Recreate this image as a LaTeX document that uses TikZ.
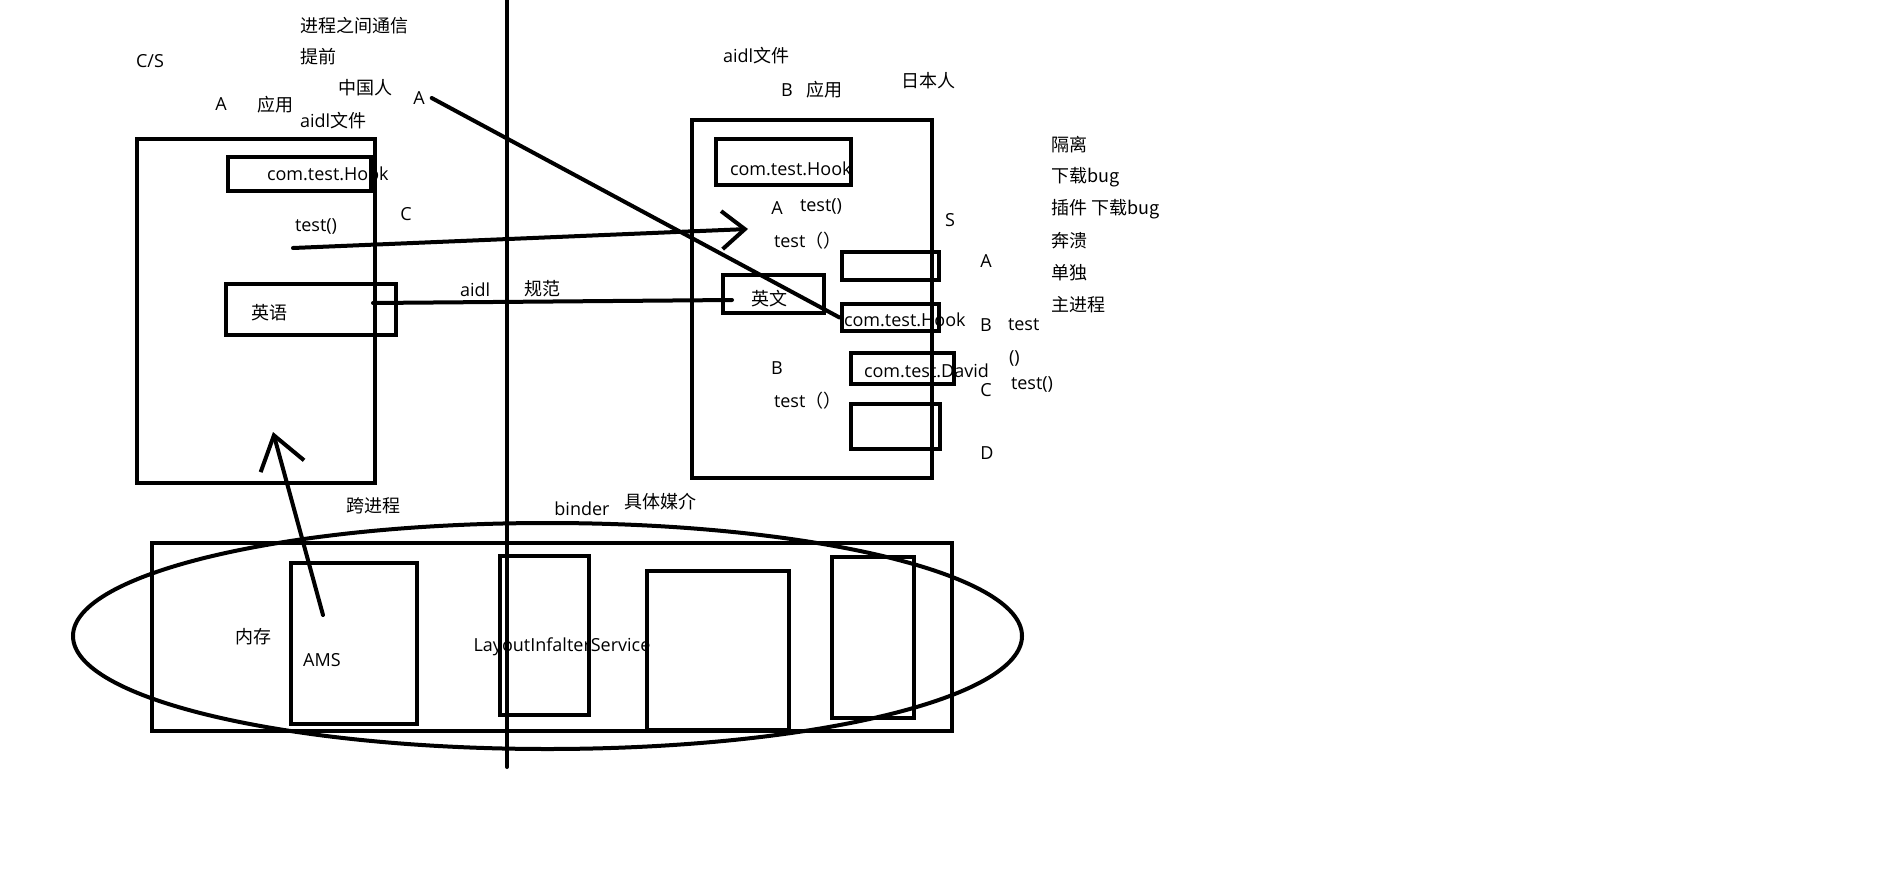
\documentclass[tikz,border=0pt]{standalone}
\usepackage{fontspec}
\setmainfont{Open Sans}
\newfontfamily\cjk{Noto Sans CJK SC}
\usetikzlibrary{arrows.meta,positioning}
\tikzset{every picture/.style={line width=4pt}}
\tikzset{
  frame/.style={draw,rectangle,inner sep=0pt},
  txt/.style={inner sep=0pt,font=\fontsize{18}{22}\selectfont},
}

\begin{document}
\begin{tikzpicture}[x=1pt,y=-1pt,line cap=round]
    \fill[white] (0,0) rectangle (1884,886);
    \useasboundingbox (0,0) rectangle (1884,886);

    % Notes top left
    \node[txt,anchor=west] (title) at (298,26) {\cjk 进程之间通信};
    \node[txt,anchor=west] (early) at (298,57) {\cjk 提前};
    \node[txt] (cs) at (150,61) {C/S};
    \node[txt] (china) at (365.5,88) {\cjk 中国人};
    \node[txt] (cnA) at (419,98) {A};
    \node[txt] (appA) at (221,104) {A};
    \node[txt] (appAuse) at (275.5,105) {\cjk 应用};
    \node[txt,anchor=west] (laidl) at (298,121) {aidl{\cjk 文件}};

    % App A
    \node[frame,minimum width=238pt,minimum height=344pt] (lbox) at (256,311) {};
    \node[frame,minimum width=143pt,minimum height=34pt] (lhook) at (299.5,174) {};
    \node[frame,minimum width=170pt,minimum height=51pt] (lying) at (311,309.5) {};
    \node[txt,anchor=west] (lhooktxt) at (265,174) {com.test.Hook};
    \node[txt,anchor=west] (ltesttxt) at (293,226) {test()};
    \node[txt] (lC) at (406,214) {C};
    \node[txt,anchor=west] (lyingtxt) at (249,313) {\cjk 英语};
    \node[txt,anchor=west] (aidl) at (458,290) {aidl};
    \node[txt,anchor=west] (spec) at (522,289) {\cjk 规范};

    % App B
    \node[txt,anchor=west] (raidl) at (721,56) {aidl{\cjk 文件}};
    \node[txt] (appB) at (787,90) {B};
    \node[txt] (appBuse) at (824,90) {\cjk 应用};
    \node[txt] (japan) at (928,81) {\cjk 日本人};
    \node[frame,minimum width=240pt,minimum height=358pt] (rbox) at (812,298.5) {};
    \node[frame,minimum width=135pt,minimum height=46pt] (rhook) at (783,161.5) {};
    \node[frame,minimum width=97pt,minimum height=28pt] (rslotA) at (890,265.5) {};
    \node[frame,minimum width=101pt,minimum height=38pt] (rying) at (773.5,294) {};
    \node[frame,minimum width=97pt,minimum height=27pt] (rhook2) at (890,317.5) {};
    \node[frame,minimum width=103pt,minimum height=31pt] (rdavid) at (902,368.5) {};
    \node[frame,minimum width=89pt,minimum height=45pt] (rslotD) at (895,426.5) {};
    \node[txt,anchor=west] (rhooktxt) at (728,169) {com.test.Hook};
    \node[txt] (rA) at (777,208) {A};
    \node[txt,anchor=west] (rAtest) at (798,206) {test()};
    \node[txt] (rS) at (950,220) {S};
    \node[txt,anchor=west] (rAcall) at (772,241) {test\cjk（）};
    \node[txt] (slotA) at (986,261) {A};
    \node[txt] (ryingtxt) at (769,299) {\cjk 英文};
    \node[txt,anchor=west] (rhook2txt) at (842,320) {com.test.Hook};
    \node[txt] (slotB) at (986,325) {B};
    \node[txt,anchor=west] (slotBtest) at (1006,325) {test};
    \node[txt,anchor=west] (slotBpar) at (1007,358) {()};
    \node[txt,anchor=west] (rdavidtxt) at (862,371) {com.test.David};
    \node[txt] (slotC) at (986,390) {C};
    \node[txt,anchor=west] (slotCtest) at (1009,384) {test()};
    \node[txt] (rB) at (777,368) {B};
    \node[txt,anchor=west] (rBcall) at (772,401) {test\cjk（）};
    \node[txt] (slotD) at (987,453) {D};

    % Notes right
    \node[txt,anchor=west] (note1) at (1049,145) {\cjk 隔离};
    \node[txt,anchor=west] (note2) at (1049,177) {\cjk 下载bug};
    \node[txt,anchor=west] (note3) at (1049,209) {\cjk 插件 下载bug};
    \node[txt,anchor=west] (note4) at (1049,241) {\cjk 奔溃};
    \node[txt,anchor=west] (note5) at (1049,273) {\cjk 单独};
    \node[txt,anchor=west] (note6) at (1049,305) {\cjk 主进程};

    % Memory
    \draw (547.5,636) ellipse (474.5pt and 113pt);
    \node[frame,minimum width=800pt,minimum height=188pt] (mem) at (552,637) {};
    \node[frame,minimum width=126pt,minimum height=161pt] (ams) at (354,643.5) {};
    \node[frame,minimum width=89pt,minimum height=159pt] (lis) at (544.5,635.5) {};
    \node[frame,minimum width=142pt,minimum height=159pt] (svc3) at (718,650.5) {};
    \node[frame,minimum width=82pt,minimum height=161pt] (svc4) at (873,637.5) {};
    \node[txt] (cross) at (373,506) {\cjk 跨进程};
    \node[txt] (binder) at (582,509) {binder};
    \node[txt] (medium) at (660,502) {\cjk 具体媒介};
    \node[txt] (memtxt) at (253,637) {\cjk 内存};
    \node[txt] (amstxt) at (322,660) {AMS};
    \node[txt] (listxt) at (562,647) {LayoutInfalterService};

    % Process border
    \coordinate (vtop) at (507,0);
    \coordinate (vbot) at (507,767);
    \draw (vtop) -- (vbot);

    % Calls
    \coordinate (ltest) at (293,248);
    \coordinate (rtest) at (748,229);
    \draw[-{Straight Barb[length=23pt,width=38pt]}] (ltest) -- (rtest);
    \coordinate (lword) at (373,303);
    \coordinate (rword) at (732,300);
    \draw (lword) -- (rword);
    \draw ([xshift=5pt]cnA.east) -- (rhook2.west);
    \coordinate (amsin) at (323,615);
    \coordinate (lboxin) at (273,432);
    \draw[-{Straight Barb[length=32pt,width=45pt]}] (amsin) -- (lboxin);
\end{tikzpicture}
\end{document}
